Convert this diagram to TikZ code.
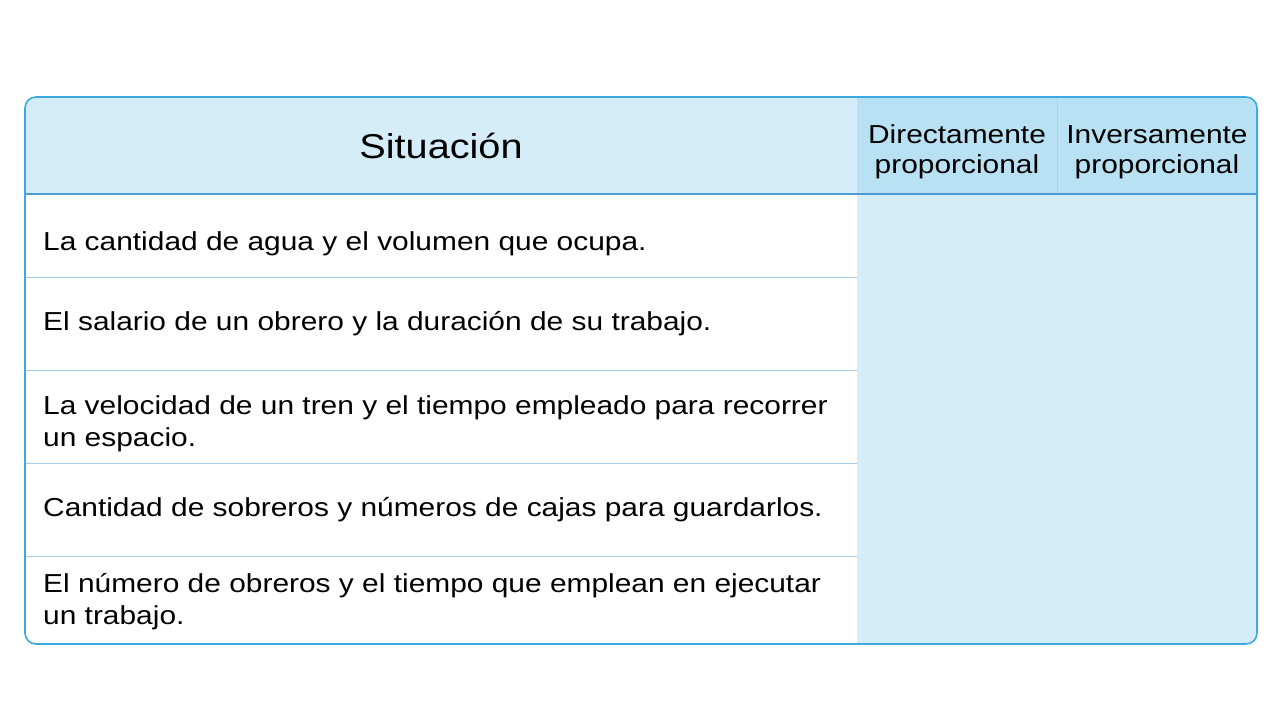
\documentclass[tikz,border=0pt]{standalone}
\usepackage{fontspec}
\setmainfont[FakeStretch=1.15]{Liberation Sans}
\definecolor{frame}{HTML}{3AAAE0}
\definecolor{hdr}{HTML}{D5EDF9}
\definecolor{hdrdark}{HTML}{B8E1F4}
\definecolor{bodyfill}{HTML}{D5EDF9}
\definecolor{rowline}{HTML}{A9CDE8}
\definecolor{hline}{HTML}{4C9BD6}
\tikzset{
  x=1pt, y=-1pt,
  bodytext/.style={anchor=west, align=left, font=\fontsize{26}{32}\selectfont, inner sep=0pt, text=black},
  hdrtext/.style={anchor=center, align=center, font=\fontsize{26}{30}\selectfont, inner sep=0pt, text=black},
}
\begin{document}
\begin{tikzpicture}
\useasboundingbox (0,0) rectangle (1280,721);
\fill[white] (0,0) rectangle (1280,721);
\begin{scope}
\clip[rounded corners=11pt] (25,97) rectangle (1257,644);
\fill[hdr] (25,97) rectangle (857,194);
\fill[hdrdark] (857,97) rectangle (1257,194);
\fill[bodyfill] (857,194) rectangle (1257,644);
\draw[hdrdark!80!frame, line width=0.8pt] (1057,97) -- (1057,194);
\draw[hline, line width=1.2pt] (25,194) -- (1257,194);
\foreach \yy in {277.5,370.5,463.5,556.5}
  \draw[rowline, line width=1pt] (25,\yy) -- (857,\yy);
\end{scope}
\draw[frame, line width=1.6pt, rounded corners=11pt] (25,97) rectangle (1257,644);
\node[hdrtext, font=\fontsize{34.5}{40}\selectfont] (sit) at (441,146) {Situación};
\node[hdrtext] (dir) at (957,152) {Directamente\\proporcional};
\node[hdrtext] (inv) at (1157,152) {Inversamente\\proporcional};
\node[bodytext] (r1) at (43,244) {La cantidad de agua y el volumen que ocupa.};
\node[bodytext] (r2) at (43,324) {El salario de un obrero y la duración de su trabajo.};
\node[bodytext] (r3) at (43,424) {La velocidad de un tren y el tiempo empleado para recorrer\\un espacio.};
\node[bodytext] (r4) at (43,510) {Cantidad de sobreros y números de cajas para guardarlos.};
\node[bodytext] (r5) at (43,602) {El número de obreros y el tiempo que emplean en ejecutar\\un trabajo.};
\end{tikzpicture}
\end{document}
